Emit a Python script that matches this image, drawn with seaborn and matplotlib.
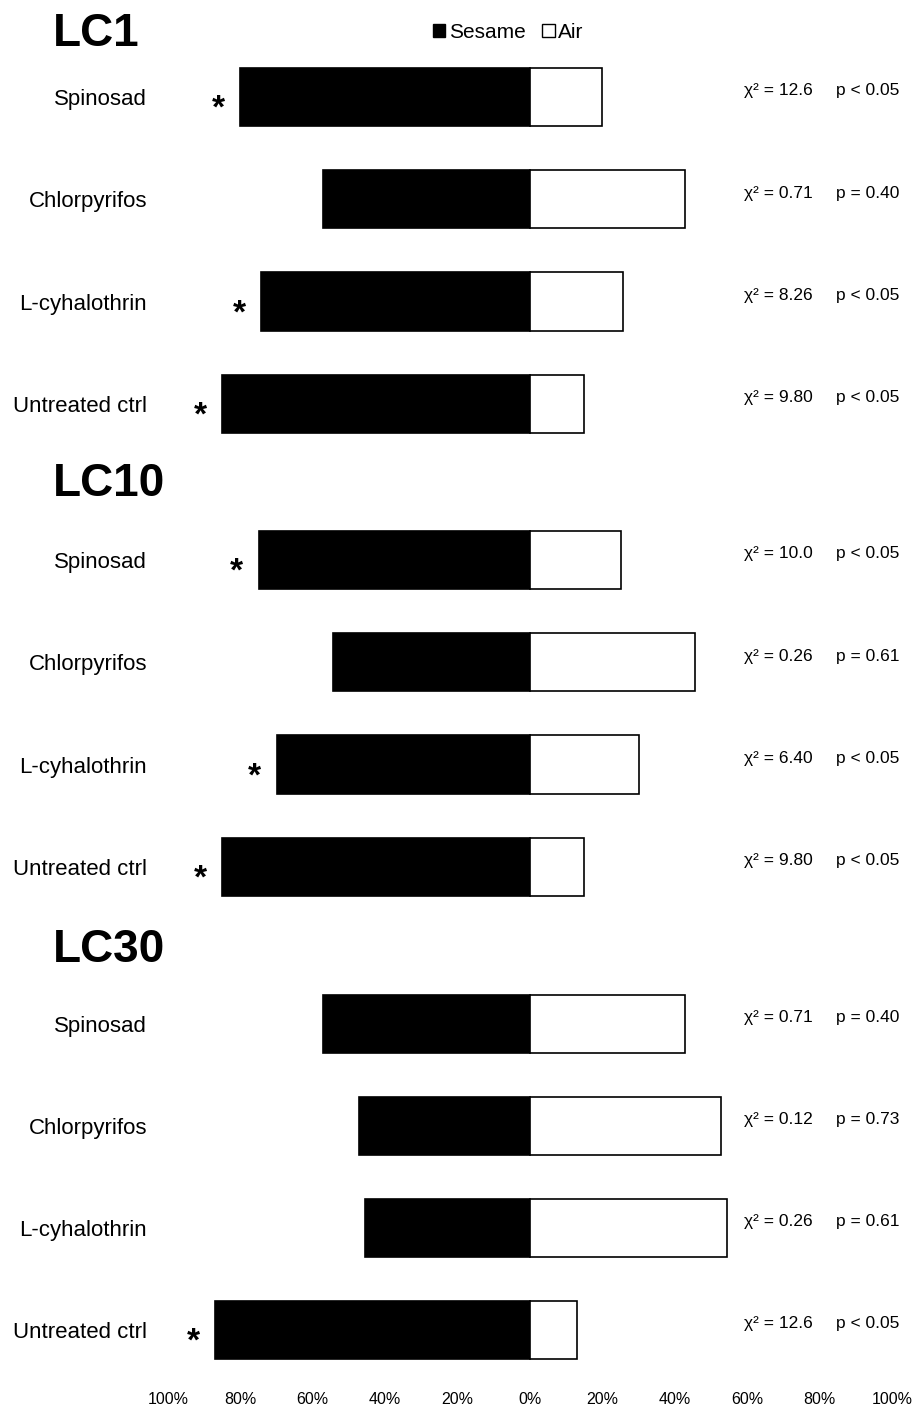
#Preferencia de oviposición: Sesame vs Air por dosis
import seaborn as sns
import matplotlib.pyplot as plt
import pandas as pd
import numpy as np
from matplotlib.patches import Patch

#Datos
grupos = ["LC1", "LC10", "LC30"]
tratamientos = ["Spinosad", "Chlorpyrifos", "L-cyhalothrin", "Untreated ctrl"]

sesame_lc1 = [80.0, 57.1, 74.3, 85.0]
air_lc1 = [20.0, 42.9, 25.7, 15.0]
chi_lc1 = ["12.6", "0.71", "8.26", "9.80"]
p_lc1 = ["p < 0.05", "p = 0.40", "p < 0.05", "p < 0.05"]
sig_lc1 = [True, False, True, True]

sesame_lc10 = [75.0, 54.3, 70.0, 85.0]
air_lc10 = [25.0, 45.7, 30.0, 15.0]
chi_lc10 = ["10.0", "0.26", "6.40", "9.80"]
p_lc10 = ["p < 0.05", "p = 0.61", "p < 0.05", "p < 0.05"]
sig_lc10 = [True, False, True, True]

sesame_lc30 = [57.1, 47.1, 45.7, 87.0]
air_lc30 = [42.9, 52.9, 54.3, 13.0]
chi_lc30 = ["0.71", "0.12", "0.26", "12.6"]
p_lc30 = ["p = 0.40", "p = 0.73", "p = 0.61", "p < 0.05"]
sig_lc30 = [False, False, False, True]

sesame = [sesame_lc1, sesame_lc10, sesame_lc30]
air = [air_lc1, air_lc10, air_lc30]
chis = [chi_lc1, chi_lc10, chi_lc30]
pvals = [p_lc1, p_lc10, p_lc30]
sigs = [sig_lc1, sig_lc10, sig_lc30]

ticks = [-100, -80, -60, -40, -20, 0, 20, 40, 60, 80, 100]
tick_labels = ["100%", "80%", "60%", "40%", "20%", "0%", "20%", "40%", "60%", "80%", "100%"]

sns.set_style("white")
plt.rcParams["font.family"] = ["Liberation Sans", "DejaVu Sans"]
plt.rcParams["text.color"] = "black"
plt.rcParams["xtick.color"] = "black"
plt.rcParams["ytick.color"] = "black"
plt.rcParams["axes.labelcolor"] = "black"

fig = plt.figure(figsize=(9.17, 14.09), dpi=100)

#Posiciones de los paneles (fracción de figura)
izq, der = 168 / 917, 892 / 917
tops = [0.9674, 0.6388, 0.3094]
bots = [0.6771, 0.3485, 0.0199]
titulos_y = [0.9759, 0.6565, 0.3258]

for i, g in enumerate(grupos):
    ax = fig.add_axes([izq, bots[i], der - izq, tops[i] - bots[i]])
    df = pd.DataFrame({"tratamiento": tratamientos,
                       "sesame": -np.array(sesame[i]),
                       "air": air[i]})
    sns.barplot(data=df, x="sesame", y="tratamiento", orient="h", order=tratamientos,
                color="black", edgecolor="black", linewidth=1.2, width=0.57, ax=ax)
    sns.barplot(data=df, x="air", y="tratamiento", orient="h", order=tratamientos,
                color="white", edgecolor="black", linewidth=1.2, width=0.57, ax=ax)
    for b in ax.patches:
        b.set_alpha(1)
    ax.set_xlim(-100, 100)
    ax.set_ylim(3.5, -0.5)
    ax.set_xlabel("")
    ax.set_ylabel("")
    ax.set_xticks(ticks)
    if i == 2:
        ax.set_xticklabels(tick_labels, fontsize=11.5)
    else:
        ax.set_xticklabels([])
    ax.tick_params(axis="both", length=0)
    ax.tick_params(axis="y", labelsize=16, pad=15)
    ax.tick_params(axis="x", pad=8)
    sns.despine(ax=ax, left=True, bottom=True)

    for j in range(len(tratamientos)):
        ax.text(59, j - 0.06, "χ² = " + chis[i][j], fontsize=12.5, va="center", ha="left")
        ax.text(84.5, j - 0.06, pvals[i][j], fontsize=12.5, va="center", ha="left")
        if sigs[i][j]:
            ax.text(-sesame[i][j] - 6, j + 0.12, "*", fontsize=24, fontweight="bold",
                    va="center", ha="center")

    fig.text(53 / 917, titulos_y[i], g, fontsize=33, fontweight="bold", va="center", ha="left")

handles = [Patch(facecolor="black", edgecolor="black", label="Sesame"),
           Patch(facecolor="white", edgecolor="black", label="Air")]
fig.legend(handles=handles, loc="center", bbox_to_anchor=(0.554, 0.977), ncol=2,
           frameon=False, fontsize=15, handlelength=0.6, handleheight=0.6,
           handletextpad=0.15, columnspacing=0.8)

plt.savefig("out.png", dpi=100)
